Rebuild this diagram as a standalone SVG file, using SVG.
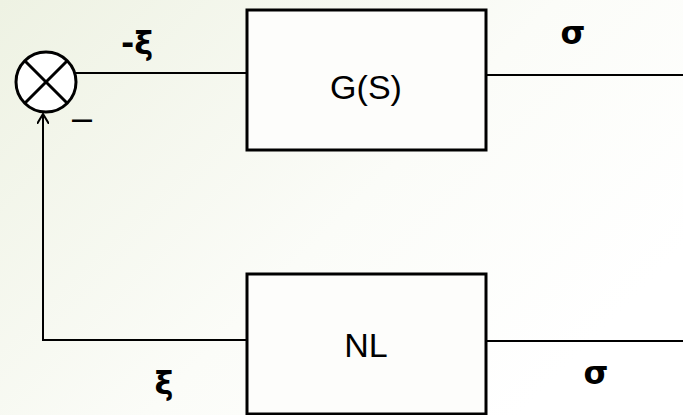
<svg xmlns="http://www.w3.org/2000/svg" width="683" height="415" viewBox="0 0 683 415">
<defs>
<linearGradient id="bg" x1="0" y1="0" x2="1" y2="0.6">
<stop offset="0" stop-color="#eef2e3"/>
<stop offset="0.6" stop-color="#fbfcf8"/>
<stop offset="1" stop-color="#ffffff"/>
</linearGradient>
<marker id="arr" markerWidth="12" markerHeight="12" refX="10" refY="6" orient="auto" markerUnits="userSpaceOnUse">
<path d="M0,0 L10,6 L0,12" fill="none" stroke="#000" stroke-width="2"/>
</marker>
<style>
.box{fill:#fdfdfb;stroke:#000;stroke-width:3}
.ln{fill:none;stroke:#000;stroke-width:2}
.lbl{font-family:"Liberation Sans",sans-serif;font-size:34px;text-anchor:middle;fill:#000}
.sym{font-family:"DejaVu Sans","Liberation Sans",sans-serif;font-weight:bold;font-size:32px;text-anchor:middle;fill:#000}
</style>
</defs>
<rect width="683" height="415" fill="url(#bg)"/>
<g id="connectors">
<line class="ln" x1="75" y1="73" x2="247" y2="73"/>
<line class="ln" x1="486" y1="75" x2="683" y2="75"/>
<line class="ln" x1="486" y1="341" x2="683" y2="341"/>
<polyline class="ln" points="247,340 43,340 43,114" marker-end="url(#arr)"/>
</g>
<g id="sum">
<circle cx="46" cy="82" r="30" fill="#fff" stroke="#000" stroke-width="3"/>
<line x1="25" y1="61" x2="67" y2="103" stroke="#000" stroke-width="3"/>
<line x1="67" y1="61" x2="25" y2="103" stroke="#000" stroke-width="3"/>
</g>
<g id="G">
<rect class="box" x="247" y="10" width="239" height="140"/>
<text class="lbl" x="366" y="99">G(S)</text>
</g>
<g id="NL">
<rect class="box" x="247" y="274" width="239" height="140"/>
<text class="lbl" x="366" y="357">NL</text>
</g>
<g id="labels">
<text class="sym" x="137" y="54">-ξ</text>
<text class="sym" x="573" y="44">σ</text>
<text x="82" y="130" font-family="'Liberation Sans',sans-serif" font-size="36" text-anchor="middle">–</text>
<text class="sym" x="164" y="394">ξ</text>
<text class="sym" x="596" y="384">σ</text>
</g>
</svg>
